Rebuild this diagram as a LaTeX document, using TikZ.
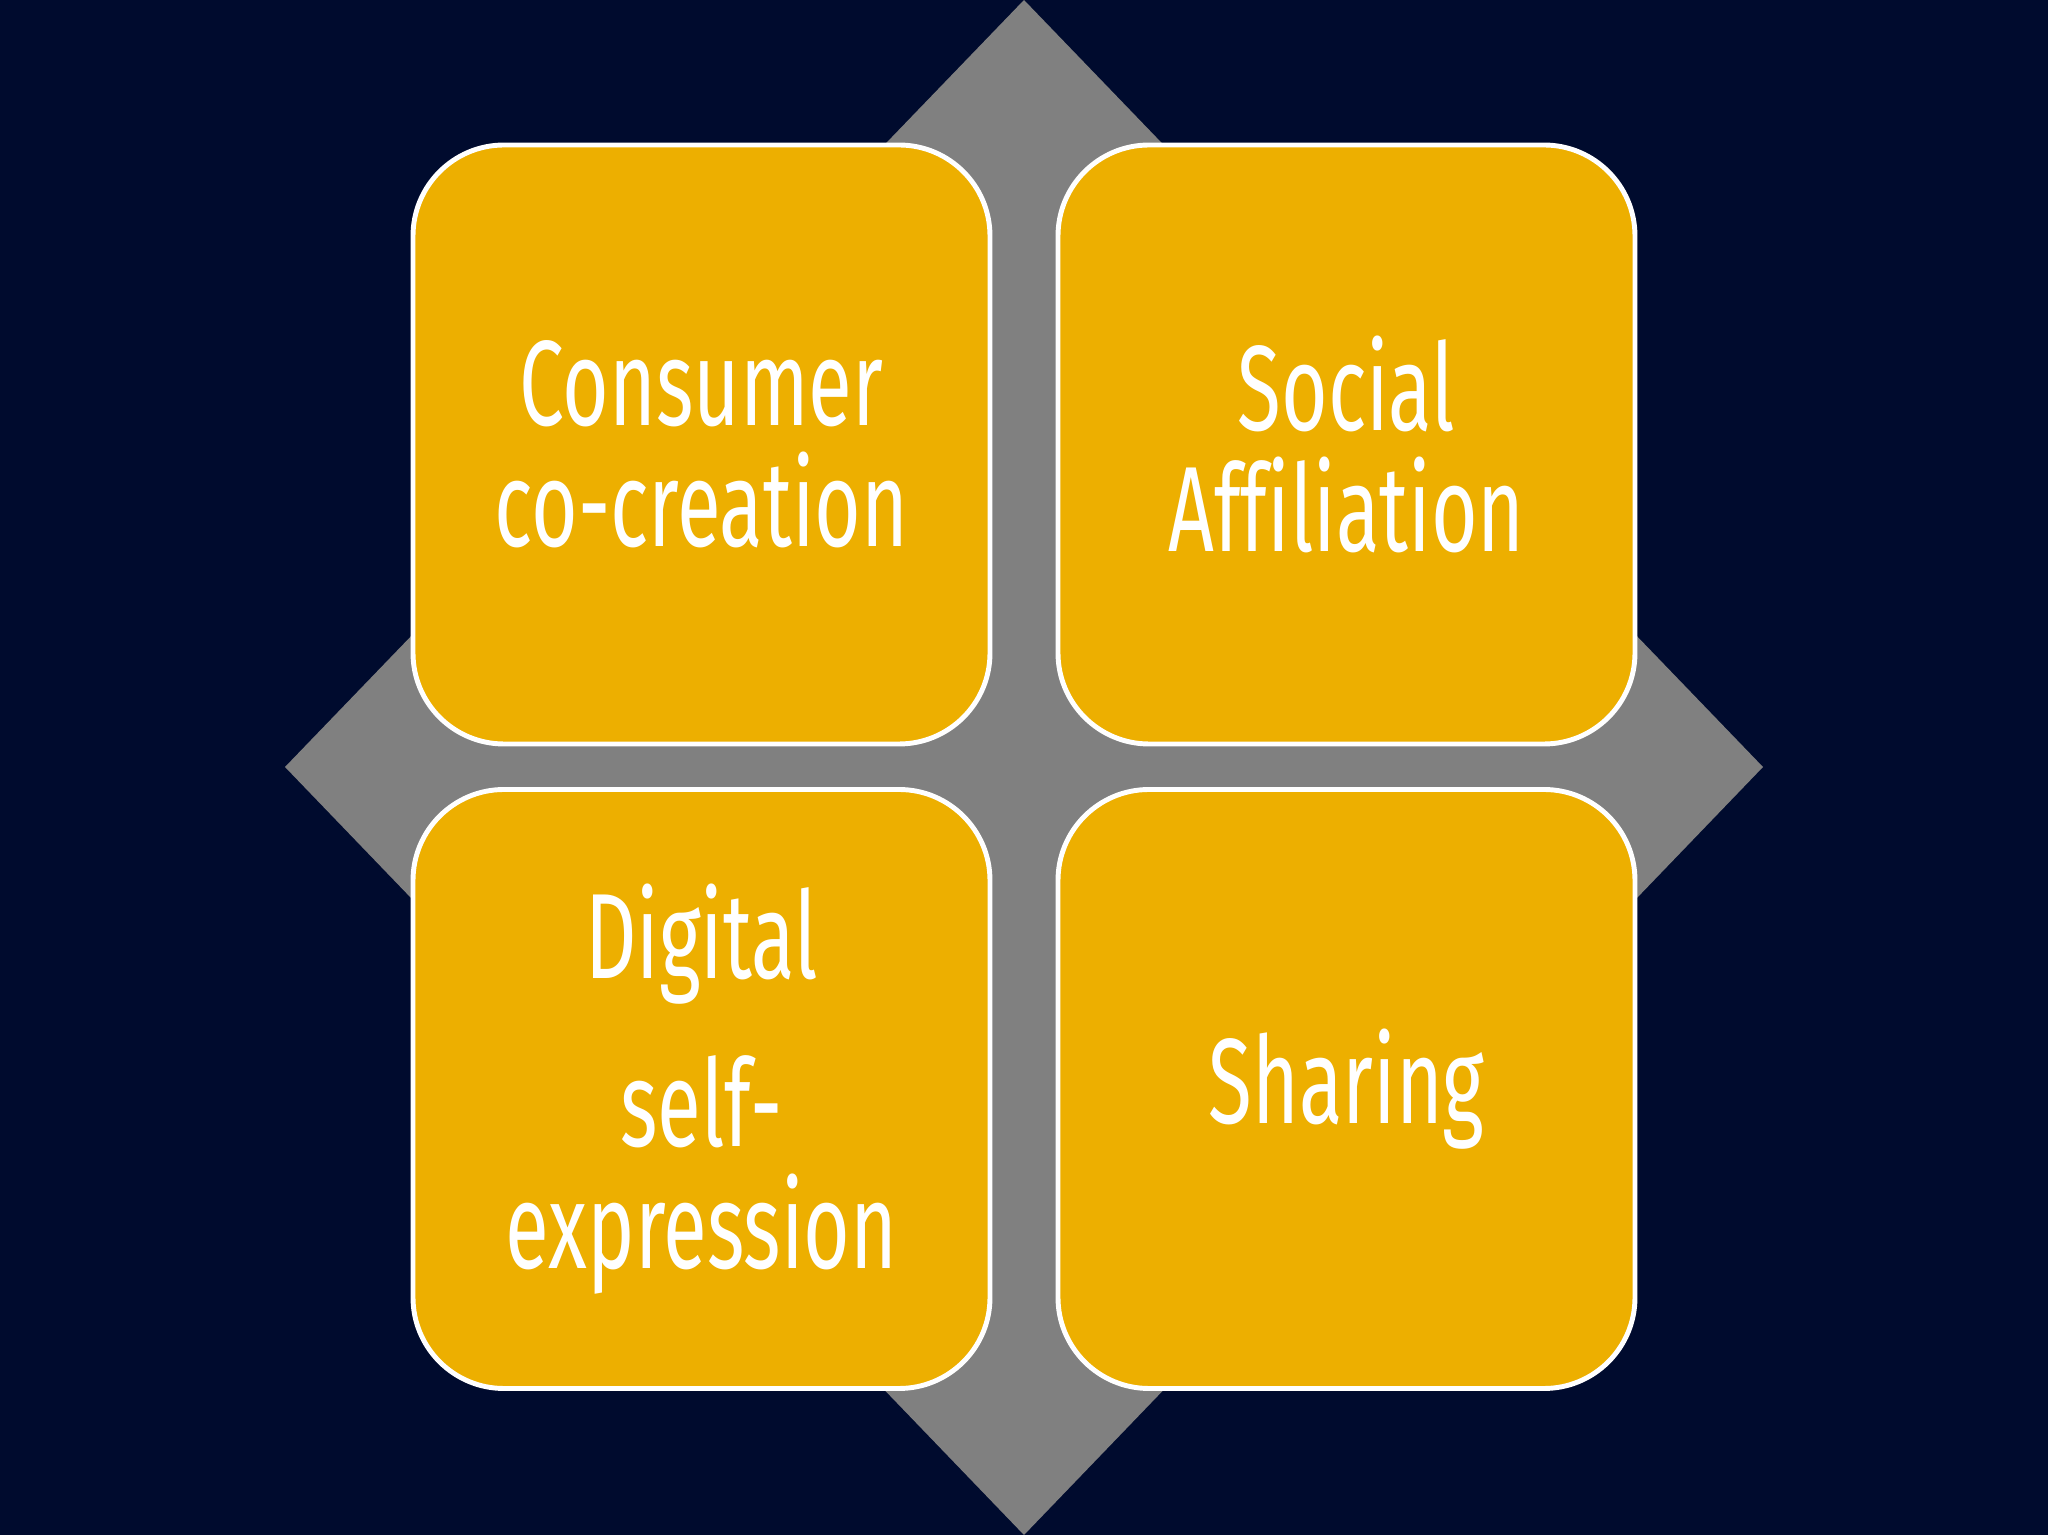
\documentclass[tikz,border=0pt]{standalone}
\usepackage{fontspec}
\setmainfont{Fira Sans}[FakeStretch=0.66, Ligatures=NoCommon]
\definecolor{navy}{RGB}{0,11,46}
\definecolor{slate}{RGB}{128,128,128}
\definecolor{amber}{RGB}{237,175,0}

\begin{document}
\begin{tikzpicture}[
	quad/.style = {draw=white, line width=1.4pt, fill=amber, rounded corners=9.1mm,
		minimum width=57.7mm, minimum height=59.9mm, inner sep=0pt,
		align=center, text=white, font=\fontsize{34.5}{34.5}\selectfont}
]

\fill[navy] (0,0) rectangle (20.48,15.35);
\useasboundingbox (0,0) rectangle (20.48,15.35);

\coordinate (top) at (10.24,15.35);
\coordinate (right) at (17.63,7.68);
\coordinate (bottom) at (10.24,0);
\coordinate (left) at (2.85,7.68);
\fill[slate] (top) -- (right) -- (bottom) -- (left) -- cycle;

\node[quad] (cocreation) at (7.015,10.905) {Consumer\\co-creation};
\node[quad] (affiliation) at (13.465,10.905) {Social\\Affiliation};
\node[quad] (expression) at (7.015,4.46) {Digital\\[4.7mm]self-\\expression};
\node[quad] (sharing) at (13.465,4.46) {Sharing};

\end{tikzpicture}
\end{document}
